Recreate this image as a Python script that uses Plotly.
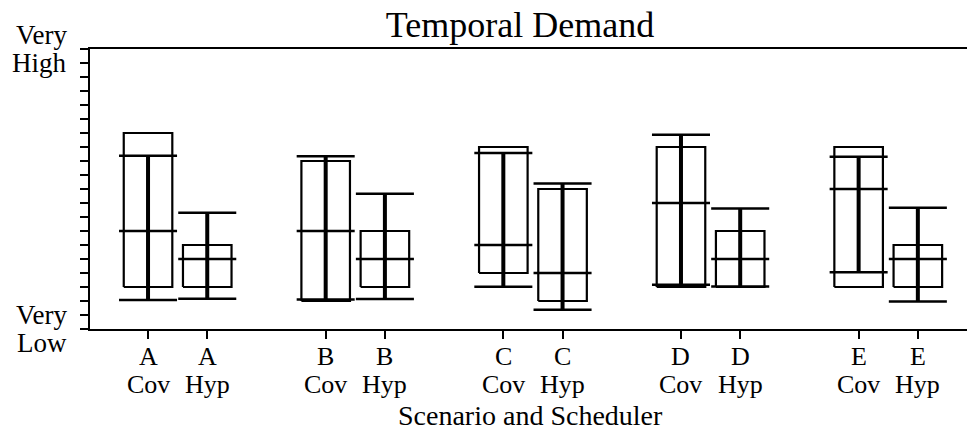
import plotly.graph_objects as go

# Scenario / scheduler pairs along the x axis
scenarios = ["A", "A", "B", "B", "C", "C", "D", "D", "E", "E"]
schedulers = ["Cov", "Hyp", "Cov", "Hyp", "Cov", "Hyp", "Cov", "Hyp", "Cov", "Hyp"]

# Temporal demand ratings (0 = Very Low, 100 = Very High)
box_low = [15, 15, 10, 15, 20, 10, 15, 15, 15, 15]
box_high = [70, 30, 60, 35, 65, 50, 65, 35, 65, 30]
median = [35, 25, 35, 25, 30, 20, 45, 25, 50, 25]
whisker_low = [10.4, 10.8, 10.5, 10.7, 15.1, 6.9, 15.8, 15.2, 20.3, 9.8]
whisker_high = [61.9, 41.5, 61.7, 48.3, 62.9, 52.0, 69.4, 43.0, 61.5, 43.3]

y_tick_values = list(range(0, 101, 5))
y_tick_text = {0: "Very<br>Low", 100: "Very<br>High"}

FONT = "Liberation Serif, DejaVu Serif, serif"
BOX_HALF = 0.41
CAP_HALF = 0.49

# x position: three slots per scenario, Cov then Hyp
groups = sorted(set(scenarios))
xpos = [3 * groups.index(sc) + (0 if sh == "Cov" else 1)
        for sc, sh in zip(scenarios, schedulers)]

box_x, box_y = [], []
bar_x, bar_y = [], []
hl_x, hl_y = [], []
for x, b0, b1, m, w0, w1 in zip(xpos, box_low, box_high, median, whisker_low, whisker_high):
    box_x += [x - BOX_HALF, x + BOX_HALF, x + BOX_HALF, x - BOX_HALF, x - BOX_HALF, None]
    box_y += [b0, b0, b1, b1, b0, None]
    bar_x += [x, x, None]
    bar_y += [w0, w1, None]
    for yv in (w0, w1, m):
        hl_x += [x - CAP_HALF, x + CAP_HALF, None]
        hl_y += [yv, yv, None]

fig = go.Figure()
fig.add_trace(go.Scatter(x=box_x, y=box_y, mode="lines",
                         line=dict(color="black", width=2.2), hoverinfo="skip"))
fig.add_trace(go.Scatter(x=bar_x, y=bar_y, mode="lines",
                         line=dict(color="black", width=4), hoverinfo="skip"))
fig.add_trace(go.Scatter(x=hl_x, y=hl_y, mode="lines",
                         line=dict(color="black", width=2.5), hoverinfo="skip"))


def label(text, size, **kw):
    """Plain text annotation in the chart's serif face."""
    return dict(text=text, showarrow=False,
                font=dict(family=FONT, size=size, color="black"), **kw)


annotations = []
# two-line x tick labels
for x, sc, sh in zip(xpos, scenarios, schedulers):
    annotations.append(label(sc, 26, x=x, y=0, xref="x", yref="paper",
                             xanchor="center", yanchor="middle", yshift=-27))
    annotations.append(label(sh, 26, x=x, y=0, xref="x", yref="paper",
                             xanchor="center", yanchor="middle", yshift=-55))
# y tick labels at the two ends of the scale
for v, txt in y_tick_text.items():
    top, bottom = txt.split("<br>")
    for line, dy in ((top, 14), (bottom, -14)):
        annotations.append(label(line, 27, x=0, y=v, xref="paper", yref="y",
                                 xanchor="right", yanchor="middle", xshift=-21, yshift=dy))
# axis title
annotations.append(label("Scenario and Scheduler", 28,
                         x=(530 - 90) / 877, y=0, xref="paper", yref="paper",
                         xanchor="center", yanchor="middle", yshift=-86))

fig.update_layout(
    width=967, height=442,
    margin=dict(l=90, r=0, t=49, b=113),
    plot_bgcolor="white", paper_bgcolor="white",
    showlegend=False,
    title=dict(text="Temporal Demand", x=520 / 967, xref="container", xanchor="center",
               y=1 - 24 / 442, yref="container", yanchor="middle",
               font=dict(family=FONT, size=36, color="black")),
    annotations=annotations,
    xaxis=dict(range=[-0.98, 13.83], showline=True, linecolor="black", linewidth=2,
               mirror=True, showgrid=False, zeroline=False, ticks="outside",
               ticklen=8, tickwidth=2, tickcolor="black", tickvals=xpos,
               showticklabels=False),
    yaxis=dict(range=[0, 100], showline=True, linecolor="black", linewidth=2,
               showgrid=False, zeroline=False, ticks="outside", ticklen=8,
               tickwidth=2, tickcolor="black", tickvals=y_tick_values,
               showticklabels=False),
)

fig.write_html("out.html")
